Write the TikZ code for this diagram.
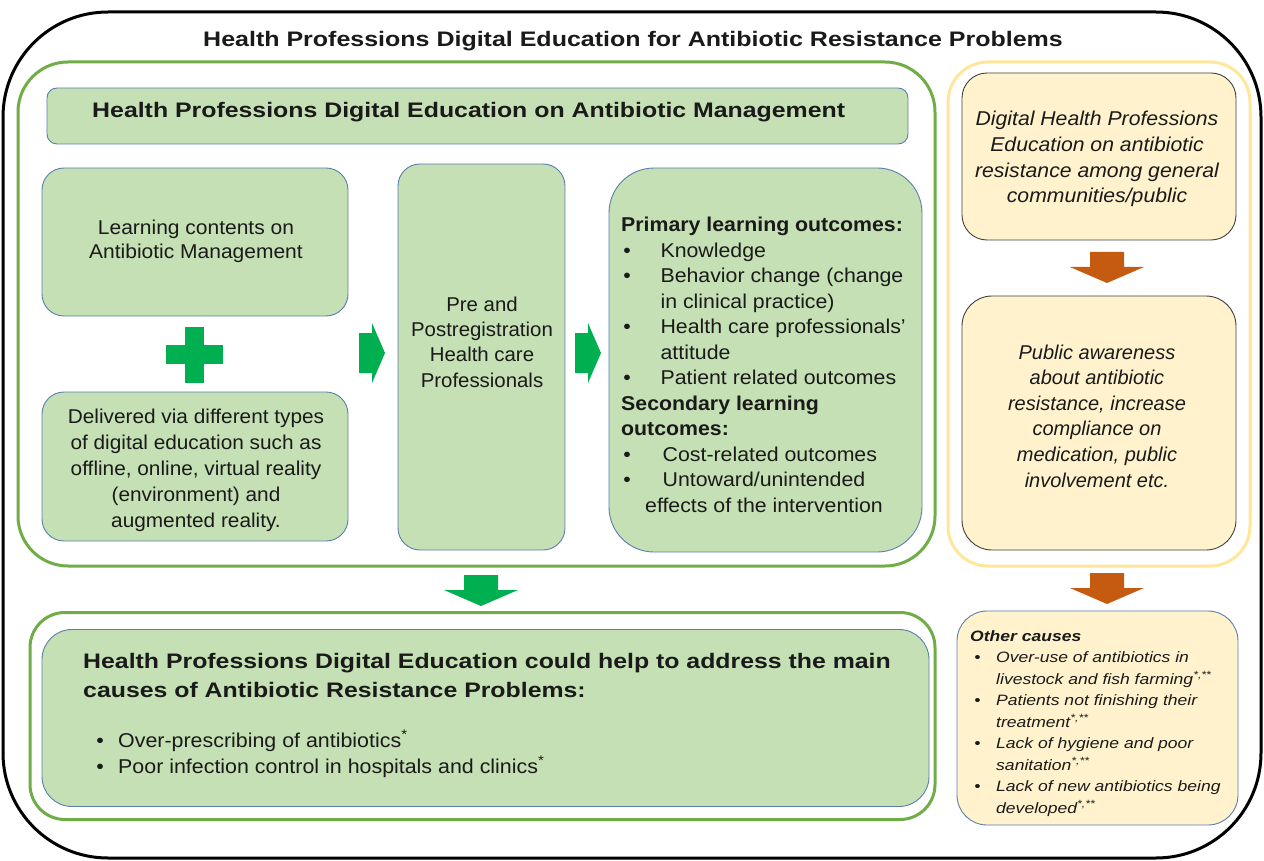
\documentclass[tikz,border=0pt]{standalone}
\usepackage{fontspec}
\setmainfont{Liberation Sans}
\definecolor{gfill}{HTML}{C5E0B4}
\definecolor{bborder}{HTML}{5A7FAE}
\definecolor{gframe}{HTML}{70AD47}
\definecolor{yframe}{HTML}{FFE699}
\definecolor{yfill}{HTML}{FFF2CC}
\definecolor{arrgreen}{HTML}{00B050}
\definecolor{arrorange}{HTML}{C55A11}
\definecolor{txt}{HTML}{1A1A1A}
\newcommand\bulA{\makebox[37pt][l]{\hspace{2pt}•}}
\newcommand\bulB{\makebox[21.5pt][l]{\hspace{1pt}•}}
\newcommand\bulC{\makebox[22.2pt][l]{\hspace{3.5pt}•}}
\tikzset{
  gbox/.style={draw=bborder, line width=0.9pt, fill=gfill, rectangle, inner sep=0pt},
  ybox/.style={draw=black!75, line width=0.9pt, fill=yfill, rectangle, inner sep=0pt},
  frame/.style={line width=3pt, rectangle, inner sep=0pt},
  plain/.style={inner sep=0pt, text=txt},
  xs/.style={xscale=#1, transform shape},
  darrow/.pic={\fill (-17,0) -- (17,0) -- (17,15) -- (37,15) -- (0,31) -- (-37,15) -- (-17,15) -- cycle;},
  rarrow/.pic={\fill (0,-20) -- (13,-20) -- (13,-30) -- (26,0) -- (13,30) -- (13,20) -- (0,20) -- cycle;}
}
\begin{document}
\begin{tikzpicture}[x=1pt,y=-1pt]
\useasboundingbox (0,0) rectangle (1264,861);
\fill[white] (0,0) rectangle (1264,861);
% outer frame
\node[frame, draw=black, rounded corners=105pt, minimum width=1258pt, minimum height=846pt] (outer) at (632,435) {};
\begin{scope}[shift={(633,41)}]
\node[plain, xs=1.19, font=\fontsize{21}{24}\selectfont\bfseries] (title) at (0,0) {Health Professions Digital Education for Antibiotic Resistance Problems};
\end{scope}
% green container
\node[frame, draw=gframe, rounded corners=50pt, minimum width=917pt, minimum height=504pt] (gcont) at (476.5,314) {};
\node[gbox, rounded corners=10pt, minimum width=861pt, minimum height=56pt] (head) at (477.5,116) {};
\begin{scope}[shift={(92,112)}]
\node[plain, anchor=west, xs=1.184, font=\fontsize{21}{25}\selectfont\bfseries] (headtxt) at (0,0) {Health Professions Digital Education on Antibiotic Management};
\end{scope}
% left boxes
\node[gbox, rounded corners=22pt, minimum width=306pt, minimum height=148pt] (learn) at (195,242) {};
\begin{scope}[shift={(196,241)}]
\node[plain, align=center, xs=1.05, font=\fontsize{20}{24}\selectfont] (learntxt) at (0,0) {Learning contents on\\Antibiotic Management};
\end{scope}
\fill[arrgreen] (185,327) rectangle (204,383);
\fill[arrgreen] (166,345) rectangle (223,364);
\coordinate (plus) at (195,355);
\node[gbox, rounded corners=22pt, minimum width=306pt, minimum height=149pt] (deliver) at (195,466.5) {};
\begin{scope}[shift={(196,470.5)}]
\node[plain, align=center, xs=1.04, font=\fontsize{20}{26}\selectfont] (delivertxt) at (0,0) {Delivered via different types\\of digital education such as\\offline, online, virtual reality\\(environment) and\\augmented reality.};
\end{scope}
% middle box
\node[gbox, rounded corners=22pt, minimum width=167pt, minimum height=386pt] (mid) at (481.5,357) {};
\begin{scope}[shift={(482,342)}]
\node[plain, align=center, xs=1.02, font=\fontsize{20}{25.3}\selectfont] (midtxt) at (0,0) {Pre and\\Postregistration\\Health care\\Professionals};
\end{scope}
% outcomes box
\node[gbox, rounded corners=45pt, minimum width=313pt, minimum height=384pt] (outc) at (765.5,360) {};
\begin{scope}[shift={(621,217)}]
\node[plain, anchor=north west, align=left, xs=1.065, font=\fontsize{20}{25.5}\selectfont] (outctxt) at (0,0) {%
\textbf{Primary learning outcomes:}\\
\bulA Knowledge\\
\bulA Behavior change (change\\
\hspace{37pt}in clinical practice)\\
\bulA Health care professionals’\\
\hspace{37pt}attitude\\
\bulA Patient related outcomes\\
\textbf{Secondary learning}\\
\textbf{outcomes:}\\
\bulA\hspace{2pt}Cost-related outcomes\\
\bulA\hspace{2pt}Untoward/unintended\\
\hspace{22.5pt}effects of the intervention};
\end{scope}
% green arrows
\pic[arrgreen] at (359,353) {rarrow};
\pic[arrgreen] at (575,353) {rarrow};
\pic[arrgreen] at (481,575) {darrow};
% bottom green section
\node[frame, draw=gframe, rounded corners=35pt, minimum width=905pt, minimum height=207pt] (bcont) at (482.5,716) {};
\node[gbox, rounded corners=30pt, minimum width=887pt, minimum height=177pt] (bbox) at (485.5,718) {};
\begin{scope}[shift={(83,668)}]
\node[plain, anchor=base west, xs=1.183, font=\fontsize{21}{29}\selectfont\bfseries] (btitleA) at (0,0) {Health Professions Digital Education could help to address the main};
\end{scope}
\begin{scope}[shift={(83,697)}]
\node[plain, anchor=base west, xs=1.183, font=\fontsize{21}{29}\selectfont\bfseries] (btitleB) at (0,0) {causes of Antibiotic Resistance Problems:};
\end{scope}
\begin{scope}[shift={(95,747)}]
\node[plain, anchor=base west, xs=1.07, font=\fontsize{20}{25}\selectfont] (bbulA) at (0,0) {\bulB Over-prescribing of antibiotics\textsuperscript{*}};
\end{scope}
\begin{scope}[shift={(95,773)}]
\node[plain, anchor=base west, xs=1.07, font=\fontsize{20}{25}\selectfont] (bbulB) at (0,0) {\bulB Poor infection control in hospitals and clinics\textsuperscript{*}};
\end{scope}
% yellow section
\node[frame, draw=yframe, rounded corners=40pt, minimum width=302pt, minimum height=504pt] (ycont) at (1099,314) {};
\node[ybox, rounded corners=25pt, minimum width=274pt, minimum height=167pt] (ytop) at (1099,156.5) {};
\begin{scope}[shift={(1097,159)}]
\node[plain, align=center, xs=1.06, font=\fontsize{20}{25.7}\selectfont\itshape] (ytoptxt) at (0,0) {Digital Health Professions\\Education on antibiotic\\resistance among general\\communities/public};
\end{scope}
\pic[arrorange] at (1107,252) {darrow};
\node[ybox, rounded corners=30pt, minimum width=274pt, minimum height=254pt] (ymid) at (1099,423) {};
\begin{scope}[shift={(1097,416)}]
\node[plain, align=center, xs=1.0, font=\fontsize{20}{25.6}\selectfont\itshape] (ymidtxt) at (0,0) {Public awareness\\about antibiotic\\resistance, increase\\compliance on\\medication, public\\involvement etc.};
\end{scope}
\pic[arrorange] at (1107,573) {darrow};
\node[ybox, draw=bborder, rounded corners=30pt, minimum width=281pt, minimum height=214pt] (ybot) at (1097.5,718) {};
\begin{scope}[shift={(970,630)}]
\node[plain, anchor=north west, align=left, xs=1.17, font=\fontsize{15}{21.5}\selectfont\itshape] (ybottxt) at (0,0) {%
\textbf{Other causes}\\
\bulC Over-use of antibiotics in\\
\hspace{22.2pt}livestock and fish farming\textsuperscript{*,**}\\
\bulC Patients not finishing their\\
\hspace{22.2pt}treatment\textsuperscript{*,**}\\
\bulC Lack of hygiene and poor\\
\hspace{22.2pt}sanitation\textsuperscript{*,**}\\
\bulC Lack of new antibiotics being\\
\hspace{22.2pt}developed\textsuperscript{*,**}};
\end{scope}
\end{tikzpicture}
\end{document}
